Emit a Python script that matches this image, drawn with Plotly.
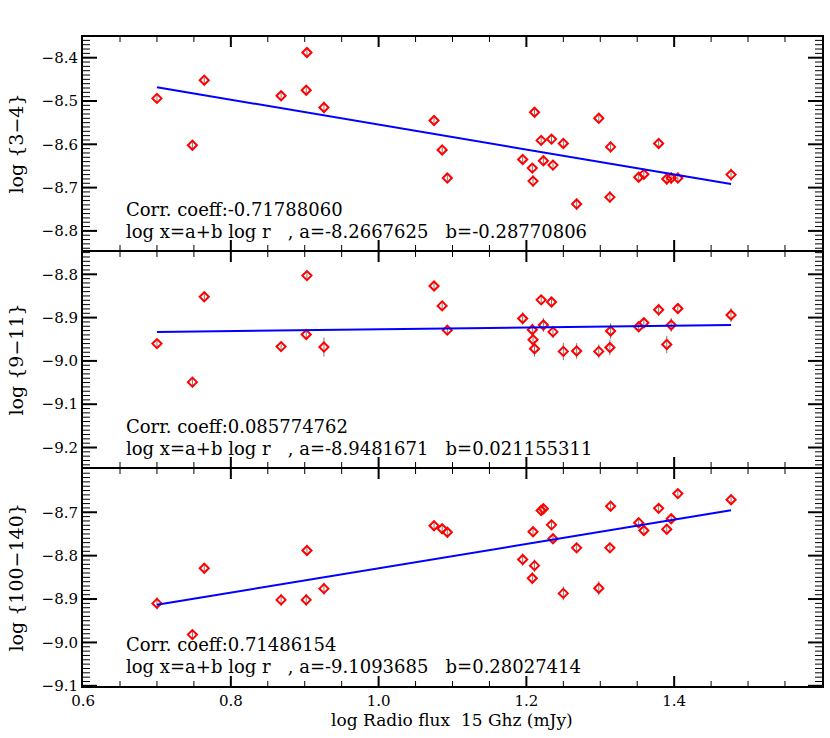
import plotly.graph_objects as go
from plotly.subplots import make_subplots
import numpy as np

# ---------------- data ----------------
x_flux = [0.700, 0.748, 0.764, 0.868, 0.902, 0.903, 0.926, 1.075, 1.086, 1.093,
          1.195, 1.208, 1.209, 1.211, 1.220, 1.223, 1.234, 1.236, 1.250, 1.268,
          1.298, 1.313, 1.314, 1.352, 1.359, 1.379, 1.390, 1.396, 1.405, 1.477]

y_3_4 = [-8.494, -8.602, -8.452, -8.488, -8.475, -8.388, -8.515, -8.545, -8.613, -8.678,
         -8.635, -8.655, -8.685, -8.526, -8.591, -8.638, -8.588, -8.648, -8.598, -8.738,
         -8.540, -8.722, -8.606, -8.676, -8.669, -8.598, -8.680, -8.678, -8.678, -8.670]

y_9_11 = [-8.960, -9.049, -8.852, -8.967, -8.939, -8.803, -8.968, -8.827, -8.873, -8.929,
          -8.902, -8.928, -8.951, -8.972, -8.859, -8.917, -8.864, -8.933, -8.978, -8.977,
          -8.978, -8.969, -8.931, -8.921, -8.912, -8.882, -8.962, -8.917, -8.879, -8.894]

y_100_140 = [-8.910, -8.982, -8.829, -8.902, -8.902, -8.788, -8.876, -8.731, -8.738, -8.746,
             -8.809, -8.852, -8.745, -8.823, -8.696, -8.692, -8.729, -8.761, -8.887, -8.782,
             -8.875, -8.782, -8.686, -8.724, -8.742, -8.691, -8.739, -8.715, -8.657, -8.671]

err_3_4 = [0.008, 0.008, 0.008, 0.008, 0.008, 0.008, 0.014, 0.008, 0.008, 0.008,
           0.012, 0.012, 0.014, 0.012, 0.010, 0.010, 0.010, 0.012, 0.010, 0.014,
           0.010, 0.014, 0.014, 0.010, 0.010, 0.012, 0.014, 0.014, 0.012, 0.014]

err_9_11 = [0.008, 0.012, 0.010, 0.008, 0.010, 0.008, 0.022, 0.008, 0.008, 0.008,
            0.014, 0.014, 0.012, 0.018, 0.010, 0.016, 0.010, 0.014, 0.020, 0.018,
            0.016, 0.018, 0.018, 0.012, 0.012, 0.014, 0.020, 0.016, 0.012, 0.016]

err_100_140 = [0.014, 0.012, 0.012, 0.014, 0.014, 0.012, 0.014, 0.008, 0.008, 0.008,
               0.014, 0.014, 0.010, 0.014, 0.010, 0.010, 0.010, 0.010, 0.016, 0.010,
               0.016, 0.012, 0.010, 0.010, 0.010, 0.010, 0.010, 0.010, 0.010, 0.010]

# fit coefficients (log x = a + b log r) and correlation coefficients
fit_a = [-8.2667625, -8.9481671, -9.1093685]
fit_b = [-0.28770806, 0.021155311, 0.28027414]
corr_text = ["-0.71788060", "0.085774762", "0.71486154"]
fit_a_text = ["-8.2667625", "-8.9481671", "-9.1093685"]
fit_b_text = ["-0.28770806", "0.021155311", "0.28027414"]

y_titles = ["log {3\u22124}", "log {9\u221211}", "log {100\u2212140}"]
y_ranges = [[-8.8441, -8.3522], [-9.2450, -8.7485], [-9.1004, -8.6003]]
y_tick0 = [-8.4, -8.8, -8.7]
x_range = [0.5999, 1.6001]
x_title = "log Radio flux  15 Ghz (mJy)"

series = [y_3_4, y_9_11, y_100_140]
errors = [err_3_4, err_9_11, err_100_140]

# ---------------- figure ----------------
W, H = 830, 738
ml, mr, mt, mb = 83, 8, 37, 52
fig = make_subplots(rows=3, cols=1, shared_xaxes=True, vertical_spacing=0)

FONT = "DejaVu Serif"
ph = H - mt - mb
pw = W - ml - mr
def yf(py):
    return (686 - py) / ph
doms = [[yf(250), 1.0], [yf(467), yf(252)], [0.0, yf(469)]]

x_minor = [round(v, 3) for v in np.arange(0.65, 1.5501, 0.05)]
x_span = x_range[1] - x_range[0]

xl = np.array([min(x_flux), max(x_flux)])
for i in range(3):
    r = i + 1
    lo, hi = y_ranges[i]
    y_span = hi - lo
    ph_i = ph * (doms[i][1] - doms[i][0])
    y_minor = [round(v, 3) for v in np.arange(np.ceil(lo * 100) / 100, hi, 0.01)]

    # tick marks drawn as line traces in the panel's own data scale
    tx = {1: [], 2: []}
    ty = {1: [], 2: []}
    for v in y_minor:
        major = abs(v * 10 - round(v * 10)) < 1e-6
        L = (14 if major else 7) / pw * x_span
        w = 2 if major else 1
        for a, b in [(x_range[0], x_range[0] + L), (x_range[1] - L, x_range[1])]:
            tx[w] += [a, b, None]
            ty[w] += [v, v, None]
    for v in x_minor:
        major = abs(v * 5 - round(v * 5)) < 1e-6
        L = (10 if major else 5) / ph_i * y_span
        w = 2 if major else 1
        for a, b in [(lo, lo + L), (hi - L, hi)]:
            tx[w] += [v, v, None]
            ty[w] += [a, b, None]
    for w in (1, 2):
        fig.add_trace(go.Scatter(x=tx[w], y=ty[w], mode="lines",
                                 line=dict(color="black", width=w),
                                 showlegend=False, hoverinfo="skip"), row=r, col=1)

    fig.add_trace(go.Scatter(
        x=x_flux, y=series[i], mode="markers",
        marker=dict(symbol="diamond-open", size=7, color="red", line=dict(width=2, color="red")),
        error_y=dict(type="data", array=errors[i], visible=True, color="#777777", thickness=1, width=0),
        showlegend=False, hoverinfo="skip"), row=r, col=1)
    fig.add_trace(go.Scatter(
        x=xl, y=fit_a[i] + fit_b[i] * xl, mode="lines",
        line=dict(color="blue", width=2), showlegend=False, hoverinfo="skip"), row=r, col=1)

    fig.update_yaxes(row=r, col=1, range=y_ranges[i], domain=doms[i], automargin=False,
                     tickmode="linear", tick0=y_tick0[i], dtick=0.1, tickformat=".1f",
                     ticks="", mirror=True, showline=True, linewidth=2, linecolor="black",
                     showgrid=False, zeroline=False,
                     tickfont=dict(family=FONT, size=15, color="black"))
    fig.update_xaxes(row=r, col=1, range=x_range, automargin=False,
                     tickmode="linear", tick0=0.6, dtick=0.2, tickformat=".1f",
                     showticklabels=(r == 3),
                     ticks="", mirror=True, showline=True, linewidth=2, linecolor="black",
                     showgrid=False, zeroline=False,
                     tickfont=dict(family=FONT, size=15, color="black"))

    yref = "y domain" if r == 1 else f"y{r} domain"
    xref = "x domain" if r == 1 else f"x{r} domain"
    fig.add_annotation(xref=xref, yref=yref, x=0.056, y=0.19, xanchor="left", yanchor="middle",
                       text=f"Corr. coeff:{corr_text[i]}", showarrow=False,
                       font=dict(family=FONT, size=18, color="black"))
    fig.add_annotation(xref=xref, yref=yref, x=0.056, y=0.088, xanchor="left", yanchor="middle",
                       text=f"log x=a+b log r   , a={fit_a_text[i]}   b={fit_b_text[i]}".replace(" ", "\u00a0"),
                       showarrow=False, font=dict(family=FONT, size=18, color="black"))
    fig.add_annotation(xref="paper", yref=yref, x=(15 - ml) / pw, y=0.5,
                       xanchor="center", yanchor="middle", textangle=-90,
                       text=y_titles[i], showarrow=False,
                       font=dict(family=FONT, size=19, color="black"))

fig.add_annotation(xref="paper", yref="paper", x=(452 - ml) / pw, y=yf(720),
                   xanchor="center", yanchor="middle", text=x_title.replace(" ", "\u00a0"),
                   showarrow=False, font=dict(family=FONT, size=17, color="black"))

fig.update_layout(width=W, height=H, margin=dict(l=ml, r=mr, t=mt, b=mb, autoexpand=False),
                  plot_bgcolor="white", paper_bgcolor="white", hovermode=False)

fig.write_html("out.html", config={"displayModeBar": False},
               post_script="document.body.style.margin='0px';")
